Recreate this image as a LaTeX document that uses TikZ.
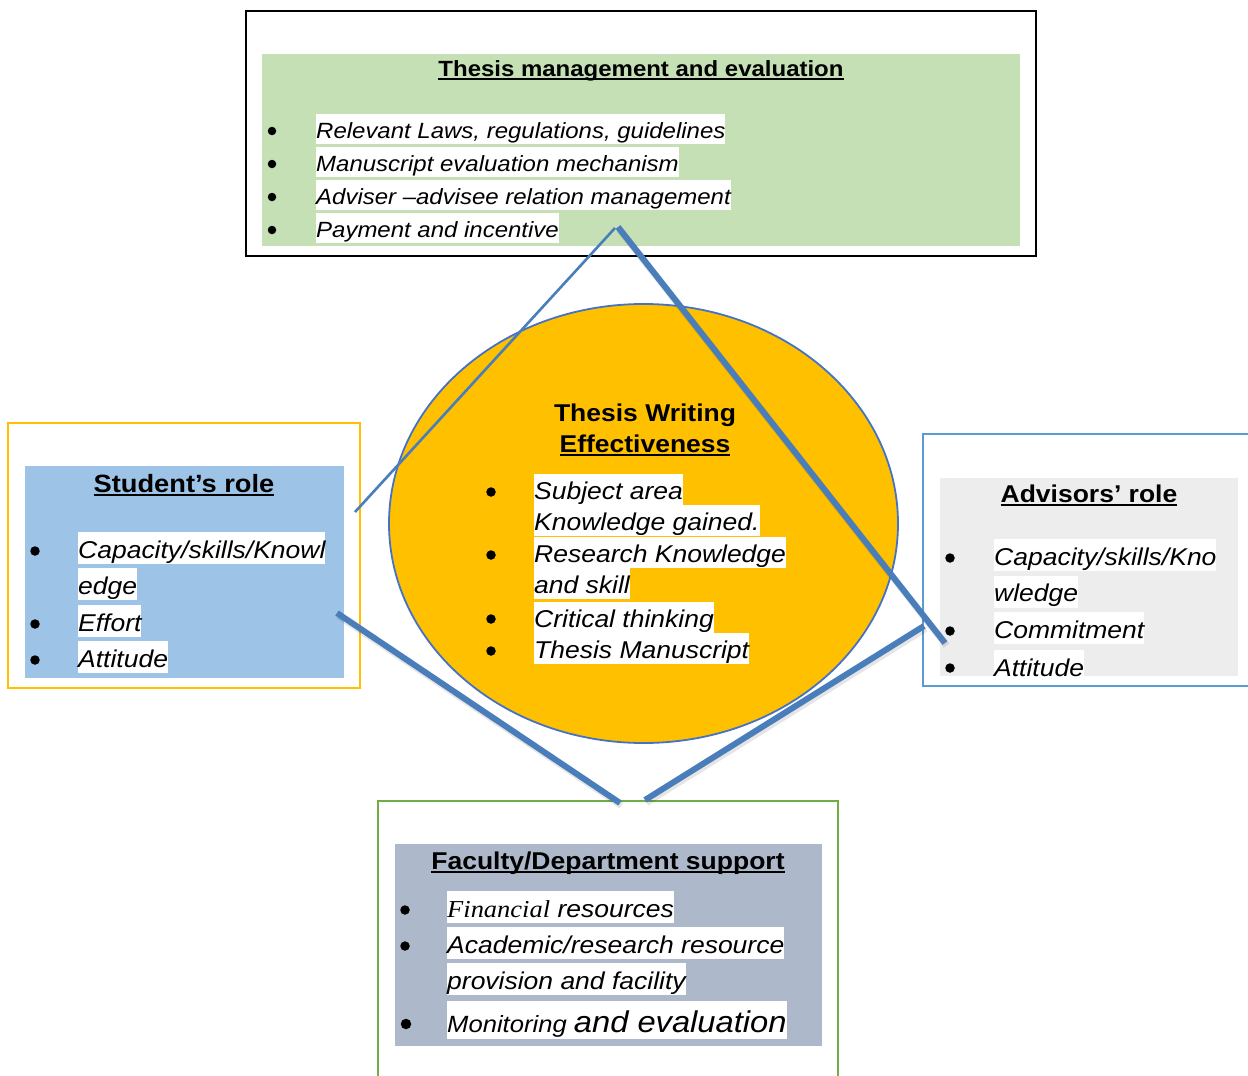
\documentclass[tikz,border=0pt]{standalone}
\usepackage{fontspec}
\setmainfont{Liberation Sans}[FakeStretch=1.09]
\newfontfamily\timesit{Liberation Serif}[FakeStretch=1.09]
\definecolor{lineblue}{HTML}{4A7EBB}
\definecolor{ellblue}{HTML}{4472C4}
\definecolor{gold}{HTML}{FFC000}
\definecolor{topgreen}{HTML}{C5E0B4}
\definecolor{stublue}{HTML}{9DC3E6}
\definecolor{advgray}{HTML}{EDEDED}
\definecolor{facgray}{HTML}{ADB9CA}
\definecolor{frameblue}{HTML}{5B9BD5}
\definecolor{framegreen}{HTML}{70AD47}
\newcommand\ulbar[1]{\setbox0\hbox{#1}\rlap{\rule[-4pt]{\wd0}{1.8pt}}\box0}
\tikzset{
  ttl/.style={anchor=base, inner sep=0pt, font=\bfseries\fontsize{#1}{#1}\selectfont},
  topitem/.style={fill=white, inner sep=0pt, anchor=base west, text height=24pt, text depth=6pt, font=\itshape\fontsize{22}{26}\selectfont},
  item/.style={fill=white, inner sep=0pt, anchor=base west, text height=26pt, text depth=6pt, font=\itshape\fontsize{24.3}{29}\selectfont},
  citem/.style={fill=white, inner sep=0pt, anchor=base west, text height=25pt, text depth=6pt, font=\itshape\fontsize{24.3}{29}\selectfont},
  blt/.style={circle, fill=black, inner sep=0pt, minimum size=#1},
  blt/.default=9.5pt,
  thickconn/.style={draw=lineblue, line width=6pt},
  thinconn/.style={draw=lineblue, line width=2.6pt},
  shade/.style={draw=black, opacity=0.1, line width=7pt, transform canvas={xshift=1.5pt, yshift=-2.5pt}}
}
\begin{document}
\begin{tikzpicture}[x=1pt,y=-1pt]
\useasboundingbox (0,0) rectangle (1248,1076);
% ---------- top box ----------
\draw[black, line width=2.5pt] (246,11) rectangle (1036,256);
\fill[topgreen] (262,54) rectangle (1020,246);
\node[ttl=22] (toptitle) at (641,76) {\ulbar{Thesis management and evaluation}};
\node[topitem] (t1) at (316,138) {Relevant Laws, regulations, guidelines};
\node[topitem] (t2) at (316,171) {Manuscript evaluation mechanism};
\node[topitem] (t3) at (316,204) {Adviser --advisee relation management};
\node[topitem] (t4) at (316,237) {Payment and incentive};
\node[blt=8.5pt] (tb1) at (272,131) {};
\node[blt=8.5pt] (tb2) at (272,164) {};
\node[blt=8.5pt] (tb3) at (272,197) {};
\node[blt=8.5pt] (tb4) at (272,230) {};
% ---------- student box ----------
\draw[gold, line width=2pt] (8,423) rectangle (360,688);
\fill[stublue] (25,466) rectangle (344,678);
\node[ttl=25] (stitle) at (184,492) {\ulbar{Student’s role}};
\node[item] (s1) at (78,558) {Capacity/skills/Knowl};
\node[item] (s1b) at (78,594) {edge};
\node[item] (s2) at (78,631) {Effort};
\node[item] (s3) at (78,667) {Attitude};
\node[blt] (sb1) at (35,551) {};
\node[blt] (sb2) at (35,624) {};
\node[blt] (sb3) at (35,660) {};
% ---------- advisors box ----------
\draw[frameblue, line width=2.5pt] (923,434) rectangle (1262,686);
\fill[advgray] (940,478) rectangle (1238,676);
\node[ttl=24.3] (atitle) at (1089,502) {\ulbar{Advisors’ role}};
\begin{scope}
\clip (940,478) rectangle (1238,676);
\node[item] (a1) at (994,565) {Capacity/skills/Kno};
\node[item] (a1b) at (994,601.5) {wledge};
\node[item] (a2) at (994,638) {Commitment};
\node[item] (a3) at (994,676) {Attitude};
\node[blt] (ab1) at (950,558) {};
\node[blt] (ab2) at (950,631) {};
\node[blt] (ab3) at (950,668) {};
\end{scope}
% ---------- faculty box ----------
\draw[framegreen, line width=2pt] (378,801) rectangle (838,1090);
\fill[facgray] (395,844) rectangle (822,1046);
\node[ttl=24.3] (ftitle) at (608,869) {\ulbar{Faculty/Department support}};
\node[item] (f1) at (447,917) {{\timesit Financial} resources};
\node[item] (f2) at (447,953) {Academic/research resource};
\node[item] (f2b) at (447,989) {provision and facility};
\node[fill=white, inner sep=0pt, anchor=base west, text height=31pt, text depth=7pt, font=\itshape\fontsize{23.5}{28}\selectfont] (f3) at (447,1032) {Monitoring {\fontsize{30}{34}\selectfont and evaluation}};
\node[blt] (fb1) at (405,910) {};
\node[blt] (fb2) at (405,946) {};
\node[blt=10.5pt] (fb3) at (406,1024) {};
% ---------- central ellipse ----------
\filldraw[fill=gold, draw=ellblue, line width=1.8pt] (643.5,523.5) ellipse [x radius=254.5pt, y radius=219.5pt];
\node[ttl=24.3] (ctitle1) at (645,421) {Thesis Writing};
\node[ttl=24.3] (ctitle2) at (645,452) {\ulbar{Effectiveness}};
\node[citem] (c1) at (534,499) {Subject area};
\node[citem] (c1b) at (534,530) {Knowledge gained.};
\node[citem] (c2) at (534,562) {Research Knowledge};
\node[citem] (c2b) at (534,593) {and skill};
\node[citem] (c3) at (534,627) {Critical thinking};
\node[citem] (c4) at (534,658) {Thesis Manuscript};
\node[blt] (cb1) at (491,492) {};
\node[blt] (cb2) at (491,555) {};
\node[blt] (cb3) at (491,619) {};
\node[blt] (cb4) at (491,651) {};
% ---------- connectors ----------
\coordinate (stuTop) at (355,512);
\coordinate (apexL) at (615,228);
\coordinate (apexR) at (618,227);
\coordinate (advTop) at (945,643);
\coordinate (stuLow) at (337,613);
\coordinate (facL) at (620,803);
\coordinate (facR) at (645,800);
\coordinate (advLow) at (924,626);
\draw[shade] (apexR) -- (advTop);
\draw[shade] (stuLow) -- (facL);
\draw[shade] (facR) -- (advLow);
\draw[thinconn] (stuTop) -- (apexL);
\draw[thickconn] (apexR) -- (advTop);
\draw[thickconn] (stuLow) -- (facL);
\draw[thickconn] (facR) -- (advLow);
\end{tikzpicture}
\end{document}
